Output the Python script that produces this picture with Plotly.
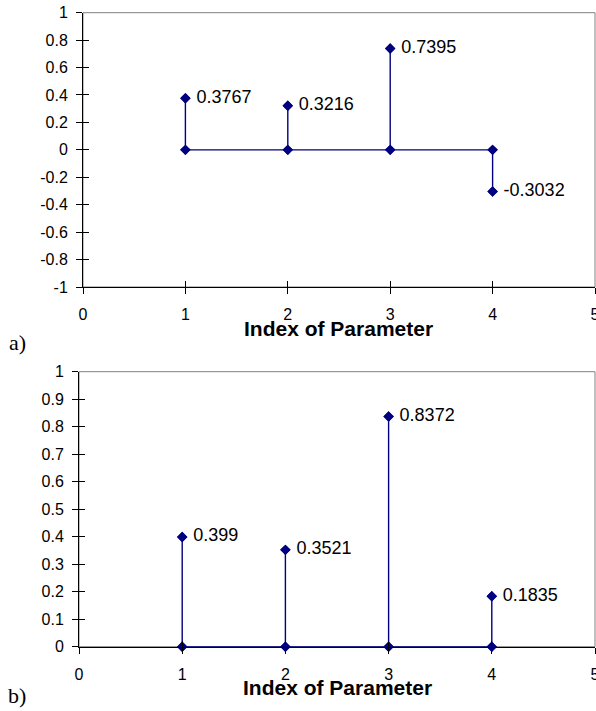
import plotly.graph_objects as go

# ---------------- data ----------------
param_index = [1, 2, 3, 4]
values_a = [0.3767, 0.3216, 0.7395, -0.3032]
values_b = [0.399, 0.3521, 0.8372, 0.1835]
labels_a = ["0.3767", "0.3216", "0.7395", "-0.3032"]
labels_b = ["0.399", "0.3521", "0.8372", "0.1835"]

x_ticks = [0, 1, 2, 3, 4, 5]
x_tick_text = ["0", "1", "2", "3", "4", "5"]
y_ticks_a = [-1, -0.8, -0.6, -0.4, -0.2, 0, 0.2, 0.4, 0.6, 0.8, 1]
y_tick_text_a = ["-1", "-0.8", "-0.6", "-0.4", "-0.2", "0", "0.2", "0.4", "0.6", "0.8", "1"]
y_ticks_b = [0, 0.1, 0.2, 0.3, 0.4, 0.5, 0.6, 0.7, 0.8, 0.9, 1]
y_tick_text_b = ["0", "0.1", "0.2", "0.3", "0.4", "0.5", "0.6", "0.7", "0.8", "0.9", "1"]

x_title = "Index of Parameter"
panel_labels = ["a)", "b)"]

# ---------------- style ----------------
NAVY = "#000080"
W, H = 596, 711
SANS = "Liberation Sans, Arial, sans-serif"
TICK_FONT = dict(family=SANS, size=16, color="black")
LABEL_FONT = dict(family=SANS, size=18, color="black")
TITLE_FONT = dict(family=SANS, size=21, color="black")


def stem_path(xs, ys):
    px, py = [], []
    for x, y in zip(xs, ys):
        px += [x, x, x]
        py += [0, y, 0]
    return px, py


fig = go.Figure()

panels = [
    dict(vals=values_a, labels=labels_a, xa="x", ya="y", xo="x3", yo="y3"),
    dict(vals=values_b, labels=labels_b, xa="x2", ya="y2", xo="x4", yo="y4"),
]

for p in panels:
    px, py = stem_path(param_index, p["vals"])
    fig.add_trace(go.Scatter(
        x=px, y=py, mode="lines+markers", xaxis=p["xa"], yaxis=p["ya"],
        line=dict(color=NAVY, width=1.4),
        marker=dict(symbol="diamond", size=8, color=NAVY),
        hoverinfo="skip", showlegend=False, cliponaxis=False))
    fig.add_trace(go.Scatter(
        x=param_index, y=p["vals"], mode="markers+text", xaxis=p["xa"], yaxis=p["ya"],
        text=p["labels"], texttemplate="\u00a0%{text}", textposition="middle right",
        textfont=LABEL_FONT,
        marker=dict(symbol="diamond", size=8, color=NAVY),
        hoverinfo="skip", showlegend=False, cliponaxis=False))
    # empty trace so the overlay (inside-tick) axes are drawn
    fig.add_trace(go.Scatter(x=[None], y=[None], xaxis=p["xo"], yaxis=p["yo"],
                             mode="markers", showlegend=False, hoverinfo="skip"))

dom_ya = [1 - 287 / H, 1 - 12.7 / H]
dom_yb = [1 - 646.7 / H, 1 - 371.7 / H]
dom_xa = [83 / W, 595 / W]
dom_xb = [79 / W, 595 / W]

common_x = dict(range=[0, 5], tickvals=x_ticks, ticktext=x_tick_text, showgrid=False,
                zeroline=False, showline=True, linecolor="black", linewidth=1,
                ticks="outside", ticklen=6, tickcolor="black", tickfont=TICK_FONT,
                ticklabelstandoff=7, ticklabeloverflow="allow", automargin=False)
common_y = dict(showgrid=False, zeroline=False, showline=True, linecolor="black",
                linewidth=1, ticks="outside", ticklen=6, tickcolor="black",
                tickfont=TICK_FONT, ticklabelstandoff=5, automargin=False)
overlay = dict(showticklabels=False, ticks="inside", ticklen=6, tickcolor="black",
               showline=False, showgrid=False, zeroline=False)

fig.update_layout(
    width=W, height=H, margin=dict(l=0, r=0, t=0, b=0),
    paper_bgcolor="white", plot_bgcolor="white",
    xaxis=dict(domain=dom_xa, anchor="y", **common_x),
    yaxis=dict(domain=dom_ya, anchor="x", range=[-1, 1], tickvals=y_ticks_a,
               ticktext=y_tick_text_a, **common_y),
    xaxis2=dict(domain=dom_xb, anchor="y2", **common_x),
    yaxis2=dict(domain=dom_yb, anchor="x2", range=[0, 1], tickvals=y_ticks_b,
                ticktext=y_tick_text_b, **common_y),
    # overlay axes that give the ticks their inner half (cross ticks)
    xaxis3=dict(overlaying="x", anchor="y3", range=[0, 5], tickvals=x_ticks,
                side="bottom", **overlay),
    yaxis3=dict(overlaying="y", anchor="x3", range=[-1, 1], tickvals=y_ticks_a,
                side="left", **overlay),
    xaxis4=dict(overlaying="x2", anchor="y4", range=[0, 5], tickvals=x_ticks,
                side="bottom", **overlay),
    yaxis4=dict(overlaying="y2", anchor="x4", range=[0, 1], tickvals=y_ticks_b,
                side="left", **overlay),
)

# grey frame (top / right) around each plot area
for xr, yr in [("x domain", "y domain"), ("x2 domain", "y2 domain")]:
    fig.add_shape(type="rect", xref=xr, yref=yr, x0=0, x1=1, y0=0, y1=1,
                  line=dict(color="#808080", width=1), layer="below")

# x-axis titles
for dom, yc in [(dom_xa, 328), (dom_xb, 687)]:
    fig.add_annotation(text="<b>" + x_title + "</b>", xref="paper", yref="paper",
                       x=(dom[0] + dom[1]) / 2, y=1 - yc / H, showarrow=False,
                       xanchor="center", yanchor="middle", font=TITLE_FONT)

# panel letters
for txt, yc in zip(panel_labels, [343, 695]):
    fig.add_annotation(text=txt, xref="paper", yref="paper", x=17 / W, y=1 - yc / H,
                       showarrow=False, xanchor="center", yanchor="middle",
                       font=dict(family="Liberation Serif, Times New Roman, serif",
                                 size=22, color="black"))

fig.write_html("out.html", config={"displayModeBar": False},
               post_script="document.body.style.margin='0px';")
